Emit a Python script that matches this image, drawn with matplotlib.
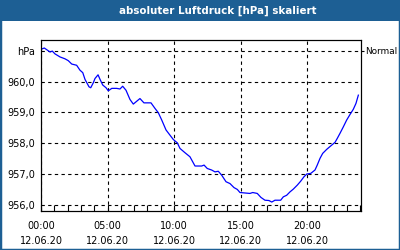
import matplotlib
matplotlib.use("Agg")
import matplotlib.pyplot as plt
from matplotlib.patches import Rectangle
from matplotlib.ticker import MultipleLocator

title = "absoluter Luftdruck [hPa] skaliert"
hours = [0.00, 0.25, 0.68, 0.85, 1.05, 1.43, 1.80, 2.05, 2.31, 2.68, 2.93, 3.14, 3.31, 3.61,
         3.74, 3.93, 4.06, 4.29, 4.44, 4.64, 4.89, 5.06, 5.32, 5.69, 5.94, 6.14, 6.39, 6.69,
         6.94, 7.44, 7.74, 8.27, 8.57, 8.82, 9.08, 9.40, 9.70, 9.95, 10.25, 10.45, 10.83,
         11.20, 11.58, 12.08, 12.26, 12.50, 12.83, 13.08, 13.33, 13.59, 13.91, 14.21, 14.51,
         14.76, 14.96, 15.71, 15.92, 16.26, 16.54, 16.84, 17.14, 17.35, 17.59, 18.02, 18.22,
         18.47, 18.72, 18.97, 19.27, 19.53, 19.77, 19.98, 20.28, 20.60, 20.77, 20.98, 21.18,
         21.48, 21.78, 22.11, 22.28, 22.48, 22.73, 22.98, 23.23, 23.48, 23.68, 23.86]
pressure = [961.05, 961.09, 960.96, 960.99, 960.90, 960.80, 960.74, 960.68, 960.57, 960.53,
            960.37, 960.29, 960.07, 959.83, 959.80, 959.96, 960.10, 960.22, 960.07, 959.89,
            959.80, 959.70, 959.78, 959.78, 959.76, 959.85, 959.72, 959.42, 959.27, 959.45,
            959.31, 959.31, 959.13, 958.99, 958.75, 958.43, 958.26, 958.12, 958.01, 957.83,
            957.69, 957.56, 957.26, 957.26, 957.29, 957.18, 957.13, 957.07, 957.09, 956.96,
            956.75, 956.69, 956.56, 956.50, 956.40, 956.37, 956.40, 956.37, 956.24, 956.15,
            956.14, 956.09, 956.15, 956.15, 956.26, 956.31, 956.42, 956.51, 956.64, 956.77,
            956.91, 957.00, 957.02, 957.13, 957.29, 957.51, 957.67, 957.80, 957.91, 958.03,
            958.16, 958.32, 958.53, 958.75, 958.93, 959.10, 959.29, 959.56]
xtick_pos = [0, 5, 10, 15, 20]
xtick_labels = ["00:00\n12.06.20", "05:00\n12.06.20", "10:00\n12.06.20",
                "15:00\n12.06.20", "20:00\n12.06.20"]
ytick_pos = [956, 957, 958, 959, 960, 961]
ytick_labels = ["956,0", "957,0", "958,0", "959,0", "960,0", "hPa"]
right_label = "Normal"
right_level = 961

blue = "#1d5f94"
plt.rcParams['font.family'] = ['DejaVu Sans']

fig = plt.figure(figsize=(4, 2.5), dpi=100)
fig.patch.set_facecolor("white")
# border and title bar
fig.patches.append(Rectangle((0, 0), 1, 1, transform=fig.transFigure, fill=False,
                             edgecolor=blue, linewidth=2.5, zorder=0))
fig.patches.append(Rectangle((0, 1 - 21/250), 1, 21/250, transform=fig.transFigure,
                             facecolor=blue, edgecolor="none", zorder=1))
fig.text(218/400, 1 - 10.5/250, title, color="white", fontsize=7.4, fontweight="bold",
         ha="center", va="center")

ax = fig.add_axes([41/400, 1 - 211/250, 320/400, 171/250])
ax.plot(hours, pressure, color="#0000ff", linewidth=0.9)
ax.set_xlim(0, 24.06)
ax.set_ylim(955.8, 961.35)
ax.set_xticks(xtick_pos)
ax.set_xticklabels(xtick_labels, fontsize=7, linespacing=1.65)
ax.xaxis.set_minor_locator(MultipleLocator(1))
ax.set_yticks(ytick_pos)
ax.set_yticklabels(ytick_labels, fontsize=7)
ax.tick_params(axis="x", which="both", direction="in", length=4, width=0.8, pad=7)
ax.tick_params(axis="y", which="major", length=0, pad=4)
ax.grid(True, which="major", color="black", linestyle=(0, (3, 3)), linewidth=0.8)
for s in ax.spines.values():
    s.set_color("black")
    s.set_linewidth(0.8)

ax2 = ax.twinx()
ax2.set_ylim(ax.get_ylim())
ax2.set_yticks([right_level])
ax2.set_yticklabels([right_label], fontsize=6.4)
ax2.tick_params(axis="y", direction="out", length=2, width=0.8, pad=1)

fig.savefig("out.png", dpi=100)
